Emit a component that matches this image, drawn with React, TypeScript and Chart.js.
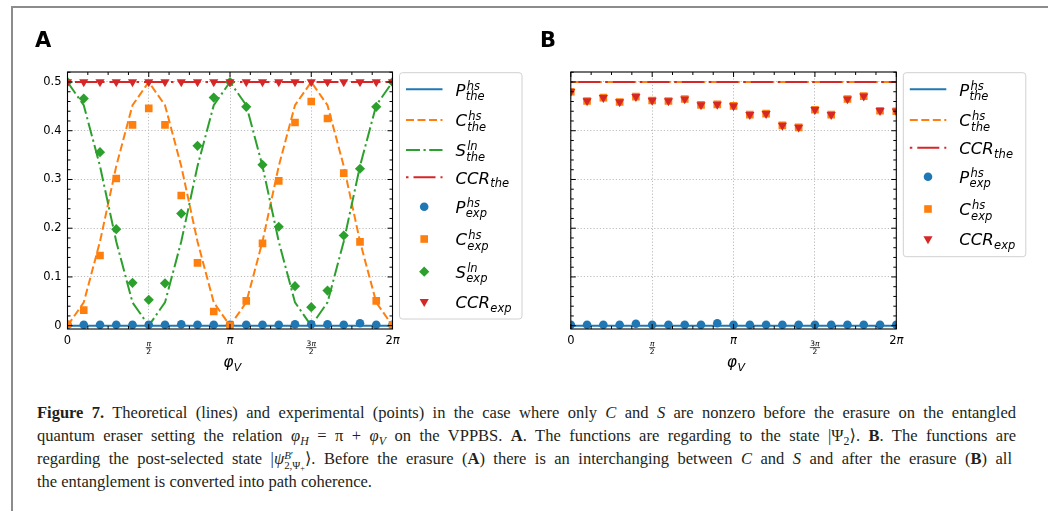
import React, { useEffect, useRef } from 'react';
import { Chart, registerables } from 'chart.js';

Chart.register(...registerables);

// ---------------- data ----------------
const PHI_OVER_PI = [0, 0.1, 0.2, 0.3, 0.4, 0.5, 0.6, 0.7, 0.8, 0.9, 1.0, 1.1, 1.2, 1.3, 1.4, 1.5, 1.6, 1.7, 1.8, 1.9, 2.0];

const X_TICKS = [0, 0.5, 1, 1.5, 2];
const X_TICK_LABELS = ['0', 'π/2', 'π', '3π/2', '2π'];
const Y_TICKS = [0, 0.1, 0.2, 0.3, 0.4, 0.5];
const Y_TICK_LABELS = ['0', '0.1', '0.2', '0.3', '0.4', '0.5'];

// Panel A
const A_P_THE = [0, 0, 0, 0, 0, 0, 0, 0, 0, 0, 0, 0, 0, 0, 0, 0, 0, 0, 0, 0, 0];
const A_C_THE = [0, 0.0477, 0.1727, 0.3273, 0.4523, 0.5, 0.4523, 0.3273, 0.1727, 0.0477, 0, 0.0477, 0.1727, 0.3273, 0.4523, 0.5, 0.4523, 0.3273, 0.1727, 0.0477, 0];
const A_S_THE = [0.5, 0.4523, 0.3273, 0.1727, 0.0477, 0, 0.0477, 0.1727, 0.3273, 0.4523, 0.5, 0.4523, 0.3273, 0.1727, 0.0477, 0, 0.0477, 0.1727, 0.3273, 0.4523, 0.5];
const A_CCR_THE = [0.5, 0.5, 0.5, 0.5, 0.5, 0.5, 0.5, 0.5, 0.5, 0.5, 0.5, 0.5, 0.5, 0.5, 0.5, 0.5, 0.5, 0.5, 0.5, 0.5, 0.5];
const A_P_EXP = [0.002, 0.002, 0.002, 0.002, 0.002, 0.002, 0.002, 0.003, 0.002, 0.002, 0.002, 0.002, 0.002, 0.002, 0.003, 0.003, 0.003, 0.002, 0.005, 0.002, 0.002];
const A_C_EXP = [0.003, 0.032, 0.144, 0.302, 0.412, 0.446, 0.412, 0.267, 0.129, 0.029, 0.001, 0.051, 0.169, 0.297, 0.417, 0.46, 0.425, 0.313, 0.172, 0.051, 0.002];
const A_S_EXP = [0.5, 0.466, 0.356, 0.198, 0.088, 0.053, 0.087, 0.23, 0.369, 0.468, 0.5, 0.449, 0.33, 0.203, 0.081, 0.038, 0.072, 0.185, 0.322, 0.449, 0.5];
const A_CCR_EXP = [0.5, 0.5, 0.5, 0.5, 0.5, 0.5, 0.5, 0.5, 0.5, 0.5, 0.5, 0.5, 0.5, 0.5, 0.5, 0.5, 0.5, 0.5, 0.5, 0.5, 0.5];

// Panel B
const B_P_THE = [0, 0, 0, 0, 0, 0, 0, 0, 0, 0, 0, 0, 0, 0, 0, 0, 0, 0, 0, 0, 0];
const B_C_THE = [0.5, 0.5, 0.5, 0.5, 0.5, 0.5, 0.5, 0.5, 0.5, 0.5, 0.5, 0.5, 0.5, 0.5, 0.5, 0.5, 0.5, 0.5, 0.5, 0.5, 0.5];
const B_CCR_THE = [0.5, 0.5, 0.5, 0.5, 0.5, 0.5, 0.5, 0.5, 0.5, 0.5, 0.5, 0.5, 0.5, 0.5, 0.5, 0.5, 0.5, 0.5, 0.5, 0.5, 0.5];
const B_P_EXP = [0.002, 0.002, 0.002, 0.002, 0.004, 0.002, 0.002, 0.002, 0.002, 0.005, 0.002, 0.002, 0.002, 0.002, 0.002, 0.002, 0.002, 0.002, 0.002, 0.002, 0.002];
const B_C_EXP = [0.48, 0.461, 0.468, 0.459, 0.47, 0.462, 0.461, 0.465, 0.453, 0.454, 0.451, 0.433, 0.435, 0.411, 0.407, 0.443, 0.433, 0.465, 0.471, 0.441, 0.44];
const B_CCR_EXP = [0.48, 0.461, 0.468, 0.459, 0.47, 0.462, 0.461, 0.465, 0.453, 0.454, 0.451, 0.433, 0.435, 0.411, 0.407, 0.443, 0.433, 0.465, 0.471, 0.441, 0.44];

// ---------------- styles ----------------
const BLUE = '#1f77b4';
const ORANGE = '#ff7f0e';
const GREEN = '#2ca02c';
const RED = '#d62728';
const FONT = '"DejaVu Sans", sans-serif';

const STYLE: Record<string, any> = {
  P_the: { kind: 'line', color: BLUE, dash: [] },
  C_the: { kind: 'line', color: ORANGE, dash: [8, 3.5] },
  S_the: { kind: 'line', color: GREEN, dash: [14, 3.5, 2.2, 3.5] },
  CCR_the: { kind: 'line', color: RED, dash: [2.5, 5, 22, 5] },
  P_exp: { kind: 'marker', color: BLUE, marker: 'circle', r: 4.3 },
  C_exp: { kind: 'marker', color: ORANGE, marker: 'rect', r: 5.4 },
  S_exp: { kind: 'marker', color: GREEN, marker: 'rectRot', r: 5.1 },
  CCR_exp: { kind: 'marker', color: RED, marker: 'triangle', r: 5.3, rot: 180 },
};

const LABEL: Record<string, [string, string, string]> = {
  P_the: ['P', 'hs', 'the'],
  C_the: ['C', 'hs', 'the'],
  S_the: ['S', 'ln', 'the'],
  CCR_the: ['CCR', '', 'the'],
  P_exp: ['P', 'hs', 'exp'],
  C_exp: ['C', 'hs', 'exp'],
  S_exp: ['S', 'ln', 'exp'],
  CCR_exp: ['CCR', '', 'exp'],
};

function toPts(ys: number[]) {
  return ys.map((y, i) => ({ x: PHI_OVER_PI[i], y }));
}

function lineDs(key: string, ys: number[], order: number) {
  const st = STYLE[key];
  return {
    label: key,
    data: toPts(ys),
    borderColor: st.color,
    backgroundColor: st.color,
    borderWidth: 2,
    borderDash: st.dash,
    borderCapStyle: 'butt',
    pointRadius: 0,
    pointHoverRadius: 0,
    fill: false,
    tension: 0,
    order,
  };
}

function markDs(key: string, ys: number[], order: number) {
  const st = STYLE[key];
  return {
    label: key,
    data: toPts(ys),
    showLine: false,
    pointStyle: st.marker,
    pointRadius: st.r,
    pointHoverRadius: st.r,
    pointRotation: st.rot || 0,
    pointBackgroundColor: st.color,
    pointBorderColor: st.color,
    pointBorderWidth: 0,
    borderColor: st.color,
    backgroundColor: st.color,
    order,
    clip: 0,
  };
}

// ---------------- drawing helpers ----------------
function drawMarker(ctx: CanvasRenderingContext2D, st: any, x: number, y: number) {
  const r = st.r;
  ctx.beginPath();
  if (st.marker === 'circle') ctx.arc(x, y, r, 0, Math.PI * 2);
  else if (st.marker === 'rect') {
    const s = r * Math.SQRT1_2;
    ctx.rect(x - s, y - s, 2 * s, 2 * s);
  } else if (st.marker === 'rectRot') {
    ctx.moveTo(x - r, y);
    ctx.lineTo(x, y - r);
    ctx.lineTo(x + r, y);
    ctx.lineTo(x, y + r);
    ctx.closePath();
  } else {
    ctx.moveTo(x, y + r);
    ctx.lineTo(x - 0.866 * r, y - 0.5 * r);
    ctx.lineTo(x + 0.866 * r, y - 0.5 * r);
    ctx.closePath();
  }
  ctx.fillStyle = st.color;
  ctx.fill();
}

function drawRuns(ctx: CanvasRenderingContext2D, text: string, cx: number, baseline: number, size: number) {
  const runs = [...text].map((ch) => ({
    ch,
    font: /[0-9.]/.test(ch) ? `${size}px ${FONT}` : `italic ${size}px ${FONT}`,
    w: 0,
  }));
  let total = 0;
  runs.forEach((r) => {
    ctx.font = r.font;
    r.w = ctx.measureText(r.ch).width;
    total += r.w;
  });
  let x = cx - total / 2;
  ctx.textAlign = 'left';
  runs.forEach((r) => {
    ctx.font = r.font;
    ctx.fillText(r.ch, x, baseline);
    x += r.w;
  });
  return total;
}

function roundRect(ctx: CanvasRenderingContext2D, x: number, y: number, w: number, h: number, r: number) {
  ctx.beginPath();
  ctx.moveTo(x + r, y);
  ctx.lineTo(x + w - r, y);
  ctx.quadraticCurveTo(x + w, y, x + w, y + r);
  ctx.lineTo(x + w, y + h - r);
  ctx.quadraticCurveTo(x + w, y + h, x + w - r, y + h);
  ctx.lineTo(x + r, y + h);
  ctx.quadraticCurveTo(x, y + h, x, y + h - r);
  ctx.lineTo(x, y + r);
  ctx.quadraticCurveTo(x, y, x + r, y);
  ctx.closePath();
}

function makeDecor(panel: any) {
  return {
    id: 'decor',
    afterDraw(chart: any) {
      const ctx: CanvasRenderingContext2D = chart.ctx;
      const { left, right, top, bottom } = chart.chartArea;
      const xs = chart.scales.x;
      const ys = chart.scales.y;
      ctx.save();
      // frame
      ctx.strokeStyle = '#000';
      ctx.lineWidth = 1.1;
      ctx.strokeRect(left, top, right - left, bottom - top);
      // inward ticks, all four sides
      ctx.lineWidth = 1;
      const tick = (x1: number, y1: number, x2: number, y2: number) => {
        ctx.beginPath();
        ctx.moveTo(x1, y1);
        ctx.lineTo(x2, y2);
        ctx.stroke();
      };
      for (let i = 0; i <= 16; i++) {
        const px = xs.getPixelForValue(i * 0.125);
        const L = i % 4 === 0 ? 5 : 3;
        tick(px, bottom, px, bottom - L);
        tick(px, top, px, top + L);
      }
      for (let i = 0; i <= 30; i++) {
        const v = i * 0.02;
        if (v > ys.max) break;
        const py = ys.getPixelForValue(v);
        const L = i % 5 === 0 ? 5 : 3;
        tick(left, py, left + L, py);
        tick(right, py, right - L, py);
      }
      // x tick labels
      ctx.fillStyle = '#000';
      ctx.textBaseline = 'alphabetic';
      X_TICKS.forEach((v, i) => {
        const px = xs.getPixelForValue(v);
        const lab = X_TICK_LABELS[i];
        if (lab.includes('/')) {
          const [num, den] = lab.split('/');
          const w1 = drawRuns(ctx, num, px, bottom + 17, 7.5);
          drawRuns(ctx, den, px, bottom + 24.5, 7.5);
          const bw = Math.max(w1, 5) + 1;
          ctx.lineWidth = 0.7;
          tick(px - bw / 2, bottom + 18.6, px + bw / 2, bottom + 18.6);
        } else {
          drawRuns(ctx, lab, px, bottom + 14.5, 11.5);
        }
      });
      // x axis label: phi_V
      {
        const cx = (left + right) / 2 + 2;
        ctx.font = `italic 15.5px ${FONT}`;
        const w1 = ctx.measureText('φ').width;
        ctx.font = `italic 11px ${FONT}`;
        const w2 = ctx.measureText('V').width;
        const x0 = cx - (w1 + w2) / 2;
        ctx.textAlign = 'left';
        ctx.font = `italic 15.5px ${FONT}`;
        ctx.fillText('φ', x0, bottom + 38);
        ctx.font = `italic 11px ${FONT}`;
        ctx.fillText('V', x0 + w1 + 0.5, bottom + 42);
      }
      // panel letter
      ctx.font = `bold 21px ${FONT}`;
      ctx.textAlign = 'left';
      ctx.fillText(panel.letter, left + panel.letterDx, top - 25.3);
      // legend
      const lg = panel.legend;
      const bx = right + 7;
      const by = top + 0.7;
      const bwid = 122.5;
      roundRect(ctx, bx, by, bwid, lg.height, 3);
      ctx.fillStyle = 'rgba(255,255,255,0.85)';
      ctx.fill();
      ctx.strokeStyle = '#d0d0d0';
      ctx.lineWidth = 1;
      ctx.stroke();
      lg.entries.forEach((key: string, i: number) => {
        const cy = by + lg.rows[i];
        const st = STYLE[key];
        if (st.kind === 'line') {
          ctx.beginPath();
          ctx.setLineDash(st.dash);
          ctx.moveTo(bx + 6.5, cy);
          ctx.lineTo(bx + 43, cy);
          ctx.strokeStyle = st.color;
          ctx.lineWidth = 2;
          ctx.lineCap = 'butt';
          ctx.stroke();
          ctx.setLineDash([]);
        } else {
          drawMarker(ctx, st, bx + 24.7, cy);
        }
        const [base, sup, sub] = LABEL[key];
        const tx = bx + 56;
        ctx.fillStyle = '#000';
        ctx.textAlign = 'left';
        ctx.font = `italic 16.5px ${FONT}`;
        ctx.fillText(base, tx, cy + 6.3);
        const bw = ctx.measureText(base).width;
        ctx.font = `italic 11.5px ${FONT}`;
        if (sup) ctx.fillText(sup, tx + bw + 1.2, cy + 0.2);
        ctx.fillText(sub, tx + bw + 0.3, cy + (sup ? 10.7 : 10));
      });
      ctx.restore();
    },
  };
}

function makeConfig(datasets: any[], showY: boolean, yWidth: number, pad: any, panel: any) {
  return {
    type: 'line',
    data: { datasets },
    options: {
      animation: false,
      responsive: false,
      maintainAspectRatio: false,
      devicePixelRatio: 1,
      events: [],
      layout: { padding: pad },
      plugins: { legend: { display: false }, tooltip: { enabled: false } },
      scales: {
        x: {
          type: 'linear',
          min: 0,
          max: 2,
          afterFit: (s: any) => {
            s.height = 0;
          },
          afterBuildTicks: (s: any) => {
            s.ticks = X_TICKS.map((v) => ({ value: v }));
          },
          ticks: { display: false },
          grid: { color: '#b5b5b5', lineWidth: 0.9, drawTicks: false },
          border: { display: false, dash: [1.2, 2] },
        },
        y: {
          type: 'linear',
          min: -0.0068,
          max: 0.5205,
          afterFit: (s: any) => {
            s.width = yWidth;
          },
          afterBuildTicks: (s: any) => {
            s.ticks = Y_TICKS.map((v) => ({ value: v }));
          },
          ticks: {
            display: showY,
            padding: 6,
            color: '#000',
            font: { family: FONT, size: 11.5 },
            callback: (_v: any, i: number) => Y_TICK_LABELS[i],
          },
          grid: { color: '#b5b5b5', lineWidth: 0.9, drawTicks: false },
          border: { display: false, dash: [1.2, 2] },
        },
      },
    },
    plugins: [makeDecor(panel)],
  };
}

function Panel(props: { left: number; top: number; width: number; height: number; build: () => any }) {
  const ref = useRef<HTMLCanvasElement>(null);
  useEffect(() => {
    if (!ref.current) return;
    const chart = new Chart(ref.current, props.build());
    return () => chart.destroy();
  }, []);
  return (
    <canvas
      ref={ref}
      width={props.width}
      height={props.height}
      style={{ position: 'absolute', left: props.left, top: props.top, width: props.width, height: props.height }}
    />
  );
}

const buildA = () =>
  makeConfig(
    [
      lineDs('P_the', A_P_THE, 80),
      lineDs('C_the', A_C_THE, 70),
      lineDs('S_the', A_S_THE, 60),
      lineDs('CCR_the', A_CCR_THE, 50),
      markDs('P_exp', A_P_EXP, 40),
      markDs('C_exp', A_C_EXP, 30),
      markDs('S_exp', A_S_EXP, 20),
      markDs('CCR_exp', A_CCR_EXP, 10),
    ],
    true,
    40,
    { left: 14.5, right: 137.5, top: 63, bottom: 60 },
    {
      letter: 'A',
      letterDx: -32.5,
      legend: {
        entries: ['P_the', 'C_the', 'S_the', 'CCR_the', 'P_exp', 'C_exp', 'S_exp', 'CCR_exp'],
        rows: [16.6, 47.3, 77.3, 104.6, 134, 166.3, 199, 229],
        height: 246.3,
      },
    }
  );

const buildB = () =>
  makeConfig(
    [
      lineDs('P_the', B_P_THE, 80),
      lineDs('C_the', B_C_THE, 70),
      lineDs('CCR_the', B_CCR_THE, 50),
      markDs('P_exp', B_P_EXP, 40),
      markDs('C_exp', B_C_EXP, 30),
      markDs('CCR_exp', B_CCR_EXP, 10),
    ],
    false,
    0,
    { left: 40.8, right: 151.7, top: 63, bottom: 60 },
    {
      letter: 'B',
      letterDx: -30.8,
      legend: {
        entries: ['P_the', 'C_the', 'CCR_the', 'P_exp', 'C_exp', 'CCR_exp'],
        rows: [16.6, 47.3, 75, 104, 136.3, 166.3],
        height: 184,
      },
    }
  );

const subS: React.CSSProperties = { fontSize: '0.72em', verticalAlign: '-0.3em', lineHeight: 0 };
const lineS: React.CSSProperties = { height: 23, lineHeight: '23px', textAlign: 'justify', textAlignLast: 'justify' as any };

function Caption() {
  return (
    <div
      style={{
        position: 'absolute',
        left: 37,
        top: 401,
        width: 979,
        fontFamily: '"Liberation Serif", "DejaVu Serif", serif',
        fontSize: 16.5,
        color: '#231f20',
      }}
    >
      <div style={lineS}>
        <b>Figure 7.</b> Theoretical (lines) and experimental (points) in the case where only <i>C</i> and <i>S</i> are
        nonzero before the erasure on the entangled
      </div>
      <div style={lineS}>
        quantum eraser setting the relation <i>φ</i>
        <i style={subS}>H</i> = π + <i>φ</i>
        <i style={subS}>V</i> on the VPPBS. <b>A</b>. The functions are regarding to the state |Ψ<span style={subS}>2</span>⟩. <b>B</b>. The
        functions are
      </div>
      <div style={{ ...lineS, width: 975 }}>
        regarding the post-selected state |<i>ψ</i>
        <span
          style={{
            display: 'inline-block',
            verticalAlign: '-0.5em',
            lineHeight: '0.95',
            fontSize: '0.66em',
            textAlign: 'left',
          }}
        >
          <span style={{ display: 'block' }}>
            <i>B</i>′
          </span>
          <span style={{ display: 'block' }}>
            2,Ψ<span style={{ fontSize: '0.75em', verticalAlign: '-0.2em' }}>+</span>
          </span>
        </span>
        ⟩. Before the erasure (<b>A</b>) there is an interchanging between <i>C</i> and <i>S</i> and after the erasure (
        <b>B</b>) all
      </div>
      <div style={{ height: 23, lineHeight: '23px' }}>the entanglement is converted into path coherence.</div>
    </div>
  );
}

export default function App() {
  return (
    <div style={{ position: 'absolute', left: 0, top: 0, width: 1048, height: 511, overflow: 'hidden', background: '#fff' }}>
      <div style={{ position: 'absolute', left: 11, top: 6, width: 1037, height: 2, background: '#8c8c8c' }} />
      <div style={{ position: 'absolute', left: 11, top: 6, width: 2, height: 505, background: '#8c8c8c' }} />
      <Panel left={13} top={9} width={517} height={380} build={buildA} />
      <Panel left={530} top={9} width={518} height={380} build={buildB} />
      <Caption />
    </div>
  );
}
